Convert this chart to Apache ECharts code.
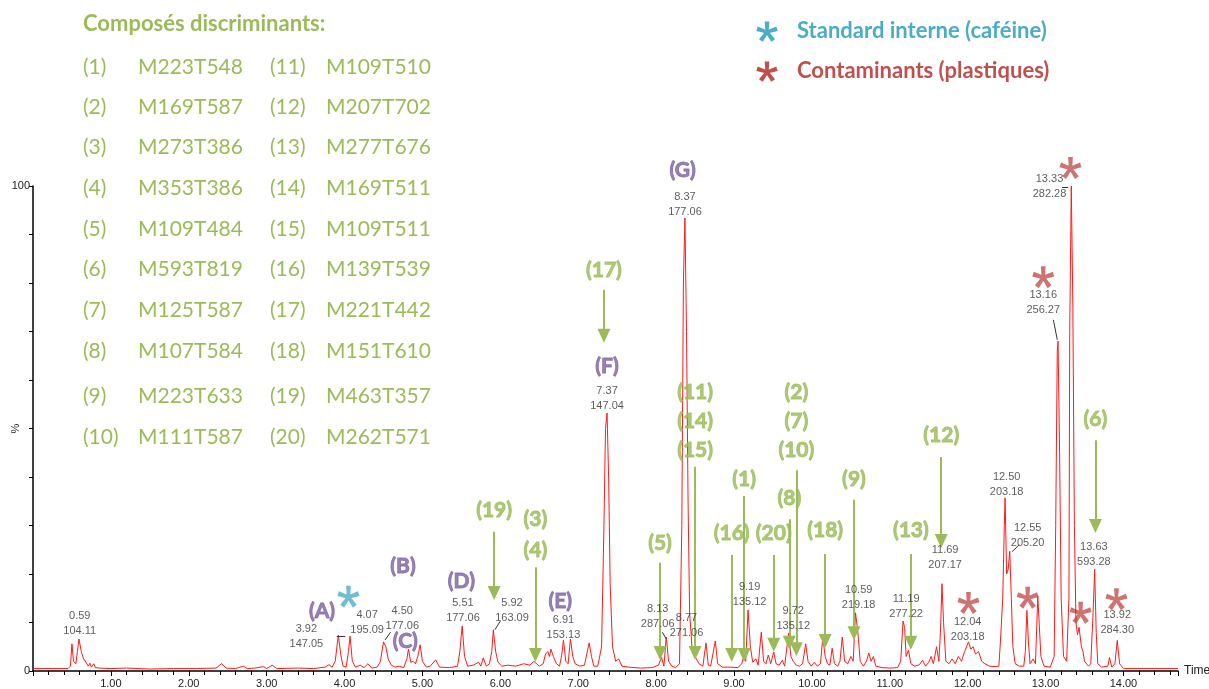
<!DOCTYPE html>
<html lang="fr">
<head>
  <meta charset="UTF-8">
  <title>Chromatogramme - composés discriminants</title>
  <script src="https://cdn.jsdelivr.net/npm/echarts@6/dist/echarts.min.js"></script>
  <style>
    html, body, #main {
      margin: 0;
      padding: 0;
      width: 1209px;
      height: 689px;
      background: #fff;
    }
  </style>
</head>
<body>
  <div id="main"></div>

  <script>
    // chromatogram trace (retention time, relative intensity %)
    const times = [
      0.00, 0.45, 0.48, 0.50, 0.52, 0.55, 0.57, 0.59, 0.62, 0.65, 0.68, 0.71, 0.73, 0.75, 0.78, 0.80, 0.85,
      1.00, 1.20, 1.50, 1.80, 2.10, 2.35, 2.42, 2.48, 2.60, 2.70, 2.75, 2.85, 2.96, 3.00, 3.07, 3.13,
      3.40, 3.60, 3.75, 3.80, 3.84, 3.88, 3.92, 3.95, 3.98, 4.02, 4.05, 4.07, 4.10, 4.14, 4.20, 4.25,
      4.30, 4.35, 4.42, 4.46, 4.50, 4.53, 4.56, 4.60, 4.65, 4.70, 4.76, 4.80, 4.82, 4.85, 4.88, 4.91,
      4.94, 4.97, 5.00, 5.05, 5.10, 5.17, 5.22, 5.35, 5.45, 5.48, 5.51, 5.54, 5.58, 5.65, 5.72, 5.75,
      5.78, 5.82, 5.86, 5.89, 5.91, 5.94, 5.97, 6.02, 6.10, 6.20, 6.30, 6.38, 6.43, 6.50, 6.55, 6.58,
      6.61, 6.63, 6.65, 6.68, 6.72, 6.76, 6.79, 6.81, 6.84, 6.87, 6.90, 6.93, 6.96, 7.02, 7.08, 7.11,
      7.14, 7.17, 7.20, 7.25, 7.30, 7.33, 7.35, 7.37, 7.39, 7.41, 7.44, 7.48, 7.52, 7.56, 7.65, 7.80,
      7.95, 8.03, 8.07, 8.10, 8.13, 8.16, 8.20, 8.25, 8.30, 8.33, 8.35, 8.37, 8.39, 8.41, 8.43, 8.46,
      8.50, 8.55, 8.60, 8.64, 8.67, 8.70, 8.76, 8.79, 8.85, 8.95, 9.05, 9.10, 9.13, 9.15, 9.18, 9.21,
      9.24, 9.28, 9.31, 9.35, 9.38, 9.41, 9.44, 9.47, 9.51, 9.54, 9.58, 9.62, 9.65, 9.70, 9.73, 9.76,
      9.80, 9.84, 9.88, 9.92, 9.95, 9.99, 10.03, 10.07, 10.11, 10.14, 10.17, 10.20, 10.23, 10.26, 10.29, 10.33,
      10.36, 10.39, 10.42, 10.46, 10.50, 10.53, 10.56, 10.59, 10.62, 10.66, 10.70, 10.73, 10.76, 10.79, 10.82, 10.90,
      11.00, 11.10, 11.14, 11.17, 11.19, 11.21, 11.24, 11.27, 11.32, 11.38, 11.42, 11.46, 11.50, 11.53, 11.56, 11.60,
      11.63, 11.65, 11.67, 11.69, 11.72, 11.76, 11.80, 11.84, 11.88, 11.92, 11.96, 12.01, 12.04, 12.07, 12.10, 12.14,
      12.18, 12.22, 12.28, 12.35, 12.40, 12.42, 12.45, 12.47, 12.48, 12.50, 12.52, 12.54, 12.56, 12.58, 12.61, 12.66,
      12.72, 12.74, 12.76, 12.78, 12.80, 12.84, 12.87, 12.90, 12.92, 12.94, 12.98, 13.06, 13.11, 13.13, 13.15, 13.16,
      13.18, 13.20, 13.23, 13.27, 13.30, 13.31, 13.33, 13.35, 13.37, 13.39, 13.41, 13.43, 13.46, 13.48, 13.50, 13.55,
      13.58, 13.61, 13.63, 13.65, 13.67, 13.72, 13.80, 13.82, 13.85, 13.89, 13.92, 13.95, 14.00, 14.70
    ];
    const intensity = [
      0.5, 0.5, 1.0, 5.6, 2.0, 1.5, 4.0, 6.6, 4.0, 2.5, 1.8, 1.0, 1.6, 0.8, 1.5, 0.7, 0.6,
      0.5, 0.6, 0.4, 0.5, 0.5, 0.6, 1.5, 0.6, 0.5, 1.0, 0.5, 0.6, 0.9, 0.5, 1.2, 0.5,
      0.6, 0.5, 0.8, 1.3, 0.8, 2.0, 7.4, 3.5, 1.0, 0.8, 4.0, 7.2, 2.0, 0.8, 1.2, 0.7,
      1.5, 0.6, 0.8, 2.0, 6.0, 5.0, 2.5, 1.2, 0.8, 1.0, 0.7, 2.5, 4.5, 1.8, 2.0, 1.5,
      3.0, 5.4, 2.0, 0.8, 1.0, 2.3, 0.8, 0.7, 1.0, 4.0, 9.3, 3.0, 1.0, 1.2, 1.8, 1.0,
      2.7, 1.0, 1.5, 4.0, 8.5, 4.0, 1.8, 1.0, 1.2, 1.0, 1.5, 1.2, 2.0, 1.0, 1.5, 3.5,
      4.0, 3.0, 4.5, 3.0, 1.5, 1.0, 3.5, 6.4, 2.0, 1.5, 6.6, 3.0, 1.5, 1.0, 1.2, 3.5,
      5.8, 3.0, 1.0, 1.0, 5.0, 30.0, 50.0, 53.2, 40.0, 18.0, 5.0, 2.0, 2.5, 1.0, 0.8, 0.6,
      0.7, 1.2, 2.8, 1.0, 7.0, 2.0, 1.0, 0.7, 1.5, 30.0, 80.0, 93.4, 70.0, 35.0, 12.0, 5.0,
      3.0, 1.5, 1.0, 5.8, 1.2, 1.0, 6.2, 1.5, 0.8, 0.8, 0.7, 1.5, 3.3, 2.0, 12.6, 5.0,
      1.8, 2.5, 1.2, 8.0, 2.0, 1.5, 3.3, 1.5, 3.9, 1.5, 1.2, 2.2, 1.0, 7.8, 3.0, 2.0,
      1.2, 1.0, 1.5, 5.6, 2.0, 1.0, 1.8, 1.0, 1.5, 7.0, 3.0, 1.5, 1.2, 4.7, 1.5, 1.0,
      2.0, 7.0, 2.0, 1.5, 3.0, 2.0, 12.0, 8.0, 2.0, 1.0, 2.0, 3.7, 2.0, 3.0, 1.0, 0.7,
      0.6, 0.7, 2.0, 10.3, 9.0, 3.0, 4.3, 1.5, 1.0, 1.3, 2.2, 1.0, 1.8, 3.0, 1.5, 5.0,
      2.0, 8.0, 18.0, 10.0, 2.0, 1.5, 2.5, 1.5, 3.0, 2.0, 4.0, 6.0, 4.5, 5.0, 3.5, 4.0,
      2.0, 1.5, 1.0, 0.9, 1.0, 6.0, 15.0, 30.0, 35.7, 20.0, 21.0, 24.7, 15.0, 5.0, 1.5, 1.0,
      1.0, 4.0, 12.5, 6.0, 1.5, 2.5, 1.5, 15.4, 15.0, 3.0, 1.0, 0.8, 3.0, 30.0, 66.0, 68.0,
      45.0, 15.0, 3.0, 2.0, 15.0, 70.0, 100.0, 75.0, 30.0, 10.0, 7.5, 9.0, 5.0, 4.0, 2.0, 1.0,
      1.5, 12.0, 21.0, 8.0, 1.5, 0.8, 1.0, 2.8, 0.8, 1.5, 6.3, 1.5, 0.5, 0.5
    ];

    // peak annotations "time / m/z" : [time, intensity, text]
    const peakLabels = [
      [0.60, 9.7, '0.59\n104.11'], [3.51, 7.2, '3.92\n147.05'], [4.29, 10.1, '4.07\n195.09'],
      [4.74, 10.9, '4.50\n177.06'], [5.52, 12.4, '5.51\n177.06'], [6.15, 12.4, '5.92\n163.09'],
      [6.81, 8.9, '6.91\n153.13'], [7.37, 56.1, '7.37\n147.04'], [8.02, 11.3, '8.13\n287.06'],
      [8.37, 96.1, '8.37\n177.06'], [8.39, 9.3, '8.77\n271.06'], [9.20, 15.7, '9.19\n135.12'],
      [9.76, 10.9, '9.72\n135.12'], [10.60, 15.1, '10.59\n219.18'], [11.21, 13.4, '11.19\n277.22'],
      [11.71, 23.5, '11.69\n207.17'], [12.00, 8.5, '12.04\n203.18'], [12.50, 38.4, '12.50\n203.18'],
      [12.77, 28.0, '12.55\n205.20'], [12.97, 75.9, '13.16\n256.27'], [13.05, 99.9, '13.33\n282.28'],
      [13.62, 24.1, '13.63\n593.28'], [13.92, 10.1, '13.92\n284.30']
    ];
    // leader ticks from labels to peaks : [t1, i1, t2, i2]
    const leaders = [
      [3.90, 7.2, 4.01, 7.2], [4.59, 8.0, 4.52, 6.4], [6.00, 10.3, 5.93, 8.5],
      [8.08, 8.0, 8.13, 6.6], [12.66, 26.0, 12.57, 24.6], [13.10, 72.4, 13.15, 68.3],
      [13.21, 99.8, 13.29, 99.8]
    ];
    // purple compound letters
    const letterLabels = [
      [3.71, 12.4, '(A)'], [4.75, 21.6, '(B)'], [4.78, 6.2, '(C)'], [5.50, 18.6, '(D)'],
      [6.77, 14.4, '(E)'], [7.37, 62.9, '(F)'], [8.34, 103.3, '(G)']
    ];
    // asterisks
    const standardMarks = [[4.05, 15.3]];
    const contaminantMarks = [
      [12.01, 14.0], [12.77, 15.1], [13.45, 12.0], [13.91, 14.8], [12.97, 81.2], [13.32, 103.7]
    ];
    // green numbered labels
    const greenLabels = [
      [7.33, 82.7, '(17)'], [5.92, 33.2, '(19)'], [6.45, 31.3, '(3)'], [6.45, 24.9, '(4)'],
      [8.05, 26.4, '(5)'], [8.50, 57.5, '(11)'], [8.50, 51.5, '(14)'], [8.50, 45.6, '(15)'],
      [9.13, 39.6, '(1)'], [8.97, 28.5, '(16)'], [9.51, 28.5, '(20)'], [9.71, 35.7, '(8)'],
      [9.80, 57.5, '(2)'], [9.80, 51.5, '(7)'], [9.80, 45.6, '(10)'], [10.17, 29.1, '(18)'],
      [10.54, 39.6, '(9)'], [11.27, 29.1, '(13)'], [11.66, 48.7, '(12)'], [13.64, 52.0, '(6)']
    ];
    // green arrows : [time, top, arrow end]
    const arrows = [
      [7.33, 78.6, 69.1], [5.92, 28.7, 16.1], [6.45, 21.4, 3.3], [8.05, 22.3, 3.7],
      [8.50, 42.1, 3.7], [9.13, 36.1, 3.3], [8.97, 23.9, 3.3], [9.51, 23.9, 5.4],
      [9.71, 31.3, 5.8], [9.80, 41.4, 4.5], [10.17, 24.1, 6.2], [10.54, 35.3, 7.8],
      [11.27, 24.1, 5.8], [11.66, 44.1, 26.8], [13.64, 47.6, 29.9]
    ];

    const codesLeft = ['M223T548', 'M169T587', 'M273T386', 'M353T386', 'M109T484',
                       'M593T819', 'M125T587', 'M107T584', 'M223T633', 'M111T587'];
    const codesRight = ['M109T510', 'M207T702', 'M277T676', 'M169T511', 'M109T511',
                        'M139T539', 'M221T442', 'M151T610', 'M463T357', 'M262T571'];

    const GREEN = '#9bbb59';
    const PURPLE = '#8064a2';
    const CYAN = '#4bacc6';
    const RED = '#c0504d';

    // five-armed asterisk: one quad per arm, centred on (cx, cy)
    function starArms(cx, cy, r, w) {
      return [-90, -18, 54, 126, 198].map(a => {
        const t = a * Math.PI / 180;
        const dx = Math.cos(t), dy = Math.sin(t);
        const px = -dy * w, py = dx * w;
        return [
          [cx + px * 0.7, cy + py * 0.7], [cx + dx * r + px, cy + dy * r + py],
          [cx + dx * r - px, cy + dy * r - py], [cx - px * 0.7, cy - py * 0.7]
        ];
      });
    }
    const STAR = 'path://' + starArms(50, 50, 50, 11).map(q =>
      'M' + q.map(p => p[0].toFixed(1) + ' ' + p[1].toFixed(1)).join(' L') + ' Z').join(' ');

    const rowY = [67, 107, 147, 188, 229, 269, 310, 351, 396, 437];
    const graphic = [];
    graphic.push({
      type: 'text', x: 83, y: 24,
      style: { text: 'Composés discriminants:', fill: GREEN, fontFamily: 'Lato', fontWeight: 'bold', fontSize: 22, verticalAlign: 'middle' }
    });
    rowY.forEach((y, i) => {
      const base = { fill: GREEN, fontFamily: 'Lato', fontSize: 21, verticalAlign: 'middle' };
      graphic.push({ type: 'text', x: 83, y: y, style: Object.assign({ text: '(' + (i + 1) + ')' }, base) });
      graphic.push({ type: 'text', x: 138, y: y, style: Object.assign({ text: codesLeft[i] }, base) });
      graphic.push({ type: 'text', x: 270, y: y, style: Object.assign({ text: '(' + (i + 11) + ')' }, base) });
      graphic.push({ type: 'text', x: 326, y: y, style: Object.assign({ text: codesRight[i] }, base) });
    });
    graphic.push({
      type: 'text', x: 797, y: 31,
      style: { text: 'Standard interne (caféine)', fill: CYAN, fontFamily: 'Lato', fontWeight: 'bold', fontSize: 22, verticalAlign: 'middle' }
    });
    graphic.push({
      type: 'text', x: 797, y: 71,
      style: { text: 'Contaminants (plastiques)', fill: RED, fontFamily: 'Lato', fontWeight: 'bold', fontSize: 22, verticalAlign: 'middle' }
    });
    // legend asterisks
    [[767, 32, CYAN], [767, 72, RED]].forEach(s => {
      starArms(s[0], s[1], 10.5, 2.3).forEach(q => {
        graphic.push({ type: 'polygon', shape: { points: q }, style: { fill: s[2] } });
      });
    });

    const chart = echarts.init(document.getElementById('main'));

    const textSeries = (data, color, font) => ({
      type: 'scatter',
      silent: true,
      clip: false,
      symbolSize: 0,
      z: 5,
      data: data.map(d => ({ value: [d[0], d[1]], name: d[2] })),
      label: {
        show: true,
        position: 'inside',
        formatter: p => '{t|' + p.name.split('\n').join('}\n{t|') + '}',
        rich: { t: Object.assign({ color: color }, font) }
      }
    });

    const boldFont = color => ({
      fontFamily: 'Lato', fontWeight: 'bold', fontSize: 21,
      textBorderColor: color, textBorderWidth: 0.9
    });

    const option = {
      animation: false,
      backgroundColor: '#fff',
      graphic: graphic,
      grid: { left: 33, right: 31, top: 186, bottom: 18, containLabel: false, outerBoundsMode: 'none' },
      xAxis: {
        type: 'value',
        min: 0,
        max: 14.7,
        interval: 1,
        name: 'Time',
        nameLocation: 'end',
        nameGap: 6,
        nameTextStyle: { color: '#222', fontFamily: 'Liberation Sans', fontSize: 12 },
        axisLine: { lineStyle: { color: '#000', width: 1.5 } },
        axisTick: { length: 5, lineStyle: { color: '#000' } },
        minorTick: { show: true, splitNumber: 5, length: 4, lineStyle: { color: '#000' } },
        splitLine: { show: false },
        axisLabel: {
          color: '#222',
          fontFamily: 'Liberation Sans',
          fontSize: 11,
          margin: 7,
          showMaxLabel: false,
          formatter: v => (v > 0 && Number.isInteger(v)) ? v.toFixed(2) : ''
        }
      },
      yAxis: {
        type: 'value',
        min: 0,
        max: 100,
        interval: 10,
        name: '%',
        nameLocation: 'middle',
        nameRotate: 90,
        nameGap: 12,
        nameMoveOverlap: false,
        nameTextStyle: { color: '#222', fontFamily: 'Liberation Sans', fontSize: 11 },
        axisLine: { show: true, lineStyle: { color: '#000', width: 1.5 } },
        axisTick: { show: true, length: 4, lineStyle: { color: '#000' } },
        splitLine: { show: false },
        axisLabel: {
          color: '#222',
          fontFamily: 'Liberation Sans',
          fontSize: 11,
          margin: 3,
          formatter: v => (v === 0 || v === 100) ? String(v) : ''
        }
      },
      series: [
        {
          type: 'line',
          data: times.map((t, i) => [t, intensity[i]]),
          showSymbol: false,
          symbol: 'none',
          silent: true,
          lineStyle: { color: '#ff1a1a', width: 1 },
          z: 3,
          markLine: {
            silent: true,
            animation: false,
            symbol: ['none', 'triangle'],
            symbolSize: [13, 14],
            label: { show: false },
            lineStyle: { color: GREEN, width: 2, type: 'solid' },
            data: arrows.map(a => [{ coord: [a[0], a[1]] }, { coord: [a[0], a[2]] }])
          }
        },
        {
          type: 'line',
          silent: true,
          data: [],
          markLine: {
            silent: true,
            animation: false,
            symbol: ['none', 'none'],
            label: { show: false },
            lineStyle: { color: '#333', width: 1, type: 'solid' },
            data: leaders.map(l => [{ coord: [l[0], l[1]] }, { coord: [l[2], l[3]] }])
          }
        },
        textSeries(peakLabels, '#333', { fontFamily: 'Liberation Sans', fontSize: 11, lineHeight: 15 }),
        textSeries(letterLabels, PURPLE, boldFont(PURPLE)),
        textSeries(greenLabels, GREEN, boldFont(GREEN)),
        {
          type: 'scatter',
          silent: true,
          clip: false,
          symbol: STAR,
          symbolSize: 22,
          itemStyle: { color: CYAN },
          data: standardMarks
        },
        {
          type: 'scatter',
          silent: true,
          clip: false,
          symbol: STAR,
          symbolSize: 22,
          itemStyle: { color: RED },
          data: contaminantMarks
        }
      ]
    };

    chart.setOption(option);
  </script>
</body>
</html>
